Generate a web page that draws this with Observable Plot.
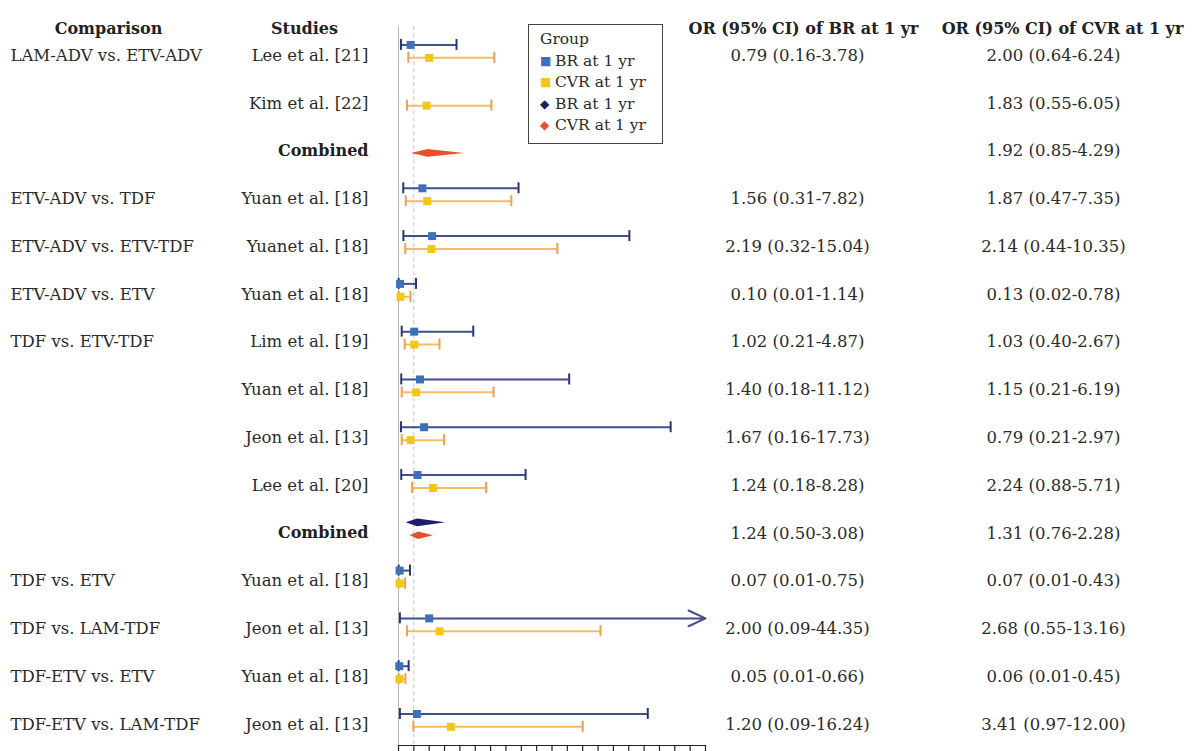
<!DOCTYPE html>
<html>
<head>
<meta charset="utf-8">
<script src="https://cdn.jsdelivr.net/npm/d3@7"></script>
<script src="https://cdn.jsdelivr.net/npm/@observablehq/plot@0.6"></script>
<style>
  html, body { margin: 0; padding: 0; background: #fff; }
  #wrap { position: relative; width: 1196px; height: 751px; overflow: hidden; }
  #legend { position: absolute; left: 528px; top: 24px; width: 135px; height: 120px;
    border: 1.5px solid #444; background: #fff; font-family: "DejaVu Serif", serif;
    font-size: 15.5px; color: #2b2b2b; box-sizing: border-box; padding: 4px 0 0 11px; line-height: 21.5px; }
  #legend .k { display: inline-block; width: 15px; font-size: 12px; vertical-align: 1px; }
</style>
</head>
<body>
<div id="wrap">
  <div id="chart"></div>
  <div id="legend">
    <div>Group</div>
    <div><span class="k" style="color:#3d70b8">&#9632;</span>BR at 1 yr</div>
    <div><span class="k" style="color:#f5c518">&#9632;</span>CVR at 1 yr</div>
    <div><span class="k" style="color:#1b1d6b">&#9670;</span>BR at 1 yr</div>
    <div><span class="k" style="color:#e8502a">&#9670;</span>CVR at 1 yr</div>
  </div>
</div>
<script>
const comparisons = ["LAM-ADV vs. ETV-ADV","","","ETV-ADV vs. TDF","ETV-ADV vs. ETV-TDF","ETV-ADV vs. ETV","TDF vs. ETV-TDF","","","","","TDF vs. ETV","TDF vs. LAM-TDF","TDF-ETV vs. ETV","TDF-ETV vs. LAM-TDF"];
const studies = ["Lee et al. [21]","Kim et al. [22]","Combined","Yuan et al. [18]","Yuanet al. [18]","Yuan et al. [18]","Lim et al. [19]","Yuan et al. [18]","Jeon et al. [13]","Lee et al. [20]","Combined","Yuan et al. [18]","Jeon et al. [13]","Yuan et al. [18]","Jeon et al. [13]"];
const brOR  = [0.79,null,null,1.56,2.19,0.10,1.02,1.40,1.67,1.24,1.24,0.07,2.00,0.05,1.20];
const brLo  = [0.16,null,null,0.31,0.32,0.01,0.21,0.18,0.16,0.18,0.50,0.01,0.09,0.01,0.09];
const brHi  = [3.78,null,null,7.82,15.04,1.14,4.87,11.12,17.73,8.28,3.08,0.75,44.35,0.66,16.24];
const cvrOR = [2.00,1.83,1.92,1.87,2.14,0.13,1.03,1.15,0.79,2.24,1.31,0.07,2.68,0.06,3.41];
const cvrLo = [0.64,0.55,0.85,0.47,0.44,0.02,0.40,0.21,0.21,0.88,0.76,0.01,0.55,0.01,0.97];
const cvrHi = [6.24,6.05,4.29,7.35,10.35,0.78,2.67,6.19,2.97,5.71,2.28,0.43,13.16,0.45,12.00];
const headers = ["Comparison","Studies","OR (95% CI) of BR at 1 yr","OR (95% CI) of CVR at 1 yr"];

const xMax = 20;
const fmt = v => v.toFixed(2);
const lab = (o,l,h) => o == null ? "" : `${fmt(o)} (${fmt(l)}-${fmt(h)})`;

const rows = studies.map((s,i) => ({
  i, comparison: comparisons[i], study: s, combined: s === "Combined",
  brText: lab(brOR[i], brLo[i], brHi[i]), cvrText: lab(cvrOR[i], cvrLo[i], cvrHi[i])
}));

const offs = {BR: -0.22, CVR: 0.05};
const est = [];
rows.forEach(r => {
  if (brOR[r.i] != null) est.push({g:"BR", y: r.i + offs.BR, or: brOR[r.i], lo: brLo[r.i], hi: brHi[r.i], combined: r.combined});
  if (cvrOR[r.i] != null) est.push({g:"CVR", y: r.i + offs.CVR, or: cvrOR[r.i], lo: cvrLo[r.i], hi: cvrHi[r.i], combined: r.combined});
});
const studyEst = est.filter(d => !d.combined);
const inRange = studyEst.filter(d => d.hi <= xMax);
const overRange = studyEst.filter(d => d.hi > xMax);
const caps = [];
studyEst.forEach(d => {
  caps.push({g: d.g, x: d.lo, y: d.y});
  if (d.hi <= xMax) caps.push({g: d.g, x: d.hi, y: d.y});
});
const capH = 0.115;
const diamonds = [];
est.filter(d => d.combined).forEach((d,k) => {
  const h = 0.08;
  diamonds.push({id: k, g: d.g, x: d.lo, y1: d.y, y2: d.y});
  diamonds.push({id: k, g: d.g, x: d.or, y1: d.y - h, y2: d.y + h});
  diamonds.push({id: k, g: d.g, x: d.hi, y1: d.y, y2: d.y});
});

const lineCol = {BR: "#414f8c", CVR: "#f6bb63"};
const capCol  = {BR: "#2e3472", CVR: "#f0a04b"};
const dotCol  = {BR: "#3d70b8", CVR: "#f5c518"};
const diaCol  = {BR: "#1b1d6b", CVR: "#e8502a"};

const font = "DejaVu Serif, serif";
const txt = "#2b2b2b";
const chart = Plot.plot({
  width: 1196, height: 751,
  marginLeft: 398, marginRight: 491, marginTop: 0, marginBottom: 6,
  style: {fontFamily: font, background: "#fff", overflow: "visible"},
  x: {domain: [0, xMax], nice: false},
  y: {domain: [-1.15, 14.44], reverse: true, axis: null},
  marks: [
    Plot.ruleX([0], {y1: -0.6, y2: 14.44, stroke: "#b8b8b8", strokeWidth: 1}),
    Plot.ruleX([1], {y1: -0.6, y2: 14.44, stroke: "#c4c4c4", strokeWidth: 1, strokeDasharray: "4,3"}),
    Plot.ruleY(inRange, {y: "y", x1: "lo", x2: "hi", stroke: d => lineCol[d.g], strokeWidth: 2}),
    Plot.arrow(overRange, {x1: "lo", x2: () => xMax, y1: "y", y2: "y", stroke: d => lineCol[d.g], strokeWidth: 2, headLength: 14, headAngle: 50}),
    Plot.ruleX(caps, {x: "x", y1: d => d.y - capH, y2: d => d.y + capH, stroke: d => capCol[d.g], strokeWidth: 2}),
    Plot.dot(studyEst, {x: "or", y: "y", symbol: "square", r: 4.5, fill: d => dotCol[d.g], stroke: "none"}),
    Plot.areaY(diamonds, {x: "x", y1: "y1", y2: "y2", z: "id", fill: d => diaCol[d.g], curve: "linear"}),
    Plot.axisX({ticks: d3.range(0, xMax + 1), tickFormat: () => "", tickSize: 6, stroke: "#222", strokeWidth: 1.2, label: null}),
    Plot.ruleY([14.44], {stroke: "#222", strokeWidth: 1.2}),
    // headers
    Plot.text([headers[0]], {text: d => d, frameAnchor: "top-left", dx: -290, dy: 22, textAnchor: "middle", fontWeight: "bold", fontSize: 16, fill: "#222"}),
    Plot.text([headers[1]], {text: d => d, frameAnchor: "top-left", dx: -94, dy: 22, textAnchor: "middle", fontWeight: "bold", fontSize: 16, fill: "#222"}),
    Plot.text([headers[2]], {text: d => d, frameAnchor: "top-left", dx: 405, dy: 22, textAnchor: "middle", fontWeight: "bold", fontSize: 16, fill: "#222"}),
    Plot.text([headers[3]], {text: d => d, frameAnchor: "top-left", dx: 664, dy: 22, textAnchor: "middle", fontWeight: "bold", fontSize: 16, fill: "#222"}),
    // columns
    Plot.text(rows, {y: "i", text: "comparison", frameAnchor: "left", dx: -388, textAnchor: "start", fontSize: 16.5, fill: txt}),
    Plot.text(rows.filter(d => !d.combined), {y: "i", text: "study", frameAnchor: "left", dx: -30, textAnchor: "end", fontSize: 16.5, fill: txt}),
    Plot.text(rows.filter(d => d.combined), {y: "i", text: "study", frameAnchor: "left", dx: -30, textAnchor: "end", fontSize: 16, fontWeight: "bold", fill: "#1e1e1e"}),
    Plot.text(rows, {y: "i", text: "brText", frameAnchor: "left", dx: 399, textAnchor: "middle", fontSize: 16.5, fill: txt}),
    Plot.text(rows, {y: "i", text: "cvrText", frameAnchor: "left", dx: 655, textAnchor: "middle", fontSize: 16.5, fill: txt})
  ]
});
document.getElementById("chart").appendChild(chart);
</script>
</body>
</html>
